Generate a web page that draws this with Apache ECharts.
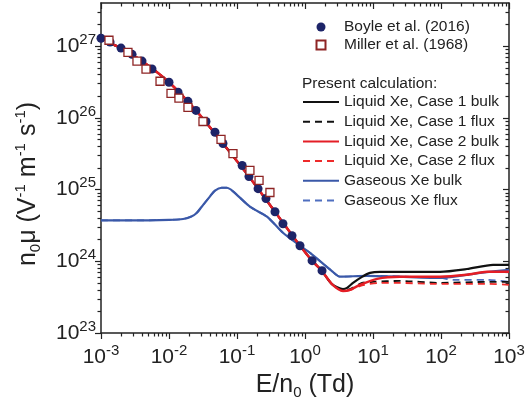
<!DOCTYPE html>
<html>
<head>
<meta charset="utf-8">
<script src="https://cdn.jsdelivr.net/npm/echarts@6/dist/echarts.min.js"></script>
<style>
  html, body { margin: 0; padding: 0; background: #fff; }
  #chart { width: 525px; height: 410px; }
</style>
</head>
<body>
<div id="chart"></div>
<script>
// tick positions
const xMajor = [1e-3, 1e-2, 1e-1, 1, 10, 100, 1000];
const yMajor = [1e23, 1e24, 1e25, 1e26, 1e27];

// Boyle et al. (2016)
const boyleE = [0.001, 0.00136, 0.00197, 0.00286, 0.00401, 0.00562, 0.0100, 0.0136, 0.0190, 0.0249, 0.0350, 0.0475, 0.0622, 0.119, 0.150, 0.204, 0.267, 0.362, 0.474, 0.644, 0.844, 1.27, 1.78];
const boyleMu = [1.29e27, 1.14e27, 9.4e26, 7.7e26, 6.2e26, 4.8e26, 3.14e26, 2.28e26, 1.70e26, 1.27e26, 8.9e25, 6.3e25, 4.4e25, 2.17e25, 1.52e25, 1.03e25, 7.5e24, 4.9e24, 3.34e24, 2.27e24, 1.65e24, 1.02e24, 7.4e23];

// Miller et al. (1968)
const millerE = [0.00131, 0.00249, 0.00338, 0.00459, 0.00738, 0.0107, 0.0140, 0.0190, 0.0316, 0.0582, 0.0873, 0.155, 0.211, 0.305];
const millerMu = [1.21e27, 8.2e26, 6.2e26, 4.8e26, 3.24e26, 2.20e26, 1.88e26, 1.40e26, 8.9e25, 5.0e25, 3.18e25, 1.85e25, 1.34e25, 9.1e24];

// liquid Xe, low field part (same for all four liquid curves)
const liqLowE = [0.001, 0.00125, 0.00197, 0.00401, 0.01, 0.0249, 0.0622, 0.15, 0.362, 0.844, 1.27, 1.78, 2.49];
const liqLowMu = [1.42e27, 1.15e27, 9.4e26, 6.2e26, 3.14e26, 1.27e26, 4.4e25, 1.52e25, 4.9e24, 1.65e24, 1.02e24, 7.3e23, 4.8e23];

const case1BulkE = liqLowE.concat([3.62, 4.15, 5.08, 6.89, 9.04, 12.7, 96.6, 241, 582, 1000]);
const case1BulkMu = liqLowMu.concat([4.1e23, 4.26e23, 5.0e23, 6.07e23, 6.9e23, 7.13e23, 7.13e23, 7.8e23, 8.93e23, 8.93e23]);
const case1FluxE = liqLowE.concat([3.62, 4.6, 6.89, 10, 24.9, 96.6, 474, 1000]);
const case1FluxMu = liqLowMu.concat([3.95e23, 4.1e23, 5.0e23, 5.16e23, 5.33e23, 5.0e23, 5.16e23, 5.16e23]);
const case2BulkE = liqLowE.concat([3.62, 4.6, 6.44, 11.5, 24.9, 96.6, 241, 474, 1000]);
const case2BulkMu = liqLowMu.concat([3.86e23, 4.0e23, 4.69e23, 5.69e23, 6.07e23, 6.07e23, 6.47e23, 7.13e23, 7.13e23]);
const case2FluxE = liqLowE.concat([3.62, 4.6, 6.89, 12.7, 24.9, 76, 474, 1000]);
const case2FluxMu = liqLowMu.concat([3.86e23, 3.95e23, 4.6e23, 5.0e23, 5.0e23, 4.84e23, 4.84e23, 4.7e23]);

// gaseous Xe
const gasBulkE = [0.001, 0.005, 0.01, 0.0161, 0.021, 0.0255, 0.032, 0.0401, 0.0475, 0.0596, 0.0706, 0.0873, 0.155, 0.276, 0.474, 0.844, 1.19, 2.49, 3.27, 8.17, 96.6, 375, 1000];
const gasBulkMu = [3.72e24, 3.73e24, 3.78e24, 3.89e24, 4.19e24, 4.72e24, 6.17e24, 8.05e24, 9.7e24, 1.06e25, 1.06e25, 9.47e24, 5.78e24, 4.19e24, 2.5e24, 1.65e24, 1.31e24, 7.3e23, 6.1e23, 6.27e23, 5.87e23, 6.9e23, 7.6e23];
const gasFluxE = gasBulkE.slice(0, 21).concat([150, 474, 1000]);
const gasFluxMu = gasBulkMu.slice(0, 21).concat([5.51e23, 5.51e23, 5.16e23]);

// minor ticks 2..9 in every decade
function minorTicks(lo, hi, max) {
  const out = [];
  for (let e = lo; e < hi; e++) {
    for (let k = 2; k <= 9; k++) {
      const v = k * Math.pow(10, e);
      if (v < max) out.push(v);
    }
  }
  return out;
}
const xMinor = minorTicks(-3, 3, 1001);
const yMinor = minorTicks(23, 28, 3.9e27);

const font = 'Liberation Sans, Arial, sans-serif';
const ink = '#222';
const xMin = 1e-3, xMax = 1e3, yMin = 1e23, yMax = 4e27;

const tickRich = {
  b: { fontSize: 21, lineHeight: 28, fontFamily: font, color: ink },
  s: { fontSize: 15, lineHeight: 15, verticalAlign: 'top', fontFamily: font, color: ink }
};
const nameRich = {
  t: { fontSize: 25, lineHeight: 30, fontFamily: font, color: ink },
  sub: { fontSize: 15, lineHeight: 14, verticalAlign: 'bottom', fontFamily: font, color: ink },
  sup: { fontSize: 15, lineHeight: 14, verticalAlign: 'top', fontFamily: font, color: ink }
};
const powLabel = v => '{b|10}{s|' + Math.round(Math.log10(v)) + '}';

function axis(pos, min, max, ticks, len, inside, line, extra) {
  return Object.assign({
    type: 'log', logBase: 10, position: pos, min: min, max: max,
    splitLine: { show: false },
    minorTick: { show: false },
    axisLine: { show: line, lineStyle: { color: ink, width: 1.5 } },
    axisTick: { show: true, inside: inside, length: len, customValues: ticks, lineStyle: { color: ink, width: 1.2 } },
    axisLabel: { show: false }
  }, extra || {});
}

function lineSeries(name, xs, ys, color, dashed, width, z) {
  return {
    name: name, type: 'line', z: z,
    data: xs.map((x, i) => [x, ys[i]]),
    symbol: 'none', showSymbol: false, smooth: 0.25,
    lineStyle: { color: color, width: width, type: dashed ? [7, 5] : 'solid' },
    itemStyle: { color: color }
  };
}

const chart = echarts.init(document.getElementById('chart'));
chart.setOption({
  animation: false,
  grid: { left: 101, right: 16, top: 3, bottom: 77, outerBoundsMode: 'none' },
  title: {
    text: 'Present calculation:', left: 302, top: 75, padding: 0,
    textStyle: { fontSize: 15.5, fontWeight: 'normal', color: ink, fontFamily: font, lineHeight: 18 }
  },
  legend: [{
    data: ['Boyle et al. (2016)', 'Miller et al. (1968)'],
    orient: 'vertical', left: 315.5, top: 19, padding: 0,
    itemWidth: 9, itemHeight: 9, itemGap: 2, selectedMode: false,
    textStyle: { fontSize: 15.5, lineHeight: 16, color: ink, fontFamily: font, padding: [0, 0, 0, 13.5] }
  }, {
    data: ['Liquid Xe, Case 1 bulk', 'Liquid Xe, Case 1 flux', 'Liquid Xe, Case 2 bulk',
      'Liquid Xe, Case 2 flux', 'Gaseous Xe bulk', 'Gaseous Xe flux'],
    orient: 'vertical', left: 302, top: 94, padding: 0,
    itemWidth: 36, itemHeight: 12, itemGap: 3.7, selectedMode: false,
    itemStyle: { opacity: 0 },
    textStyle: { fontSize: 15.5, lineHeight: 16, color: ink, fontFamily: font }
  }],
  xAxis: [
    axis('bottom', xMin, xMax, xMajor, 6, false, true, {
      axisLabel: { show: true, customValues: xMajor, margin: 10, formatter: powLabel, rich: tickRich },
      name: '{t|E/n}{sub|0}{t| (Td)}', nameLocation: 'middle', nameGap: 32,
      nameTextStyle: { rich: nameRich }
    }),
    axis('bottom', xMin, xMax, xMinor, 3.5, false, false),
    axis('top', xMin, xMax, xMajor, 6, true, true),
    axis('top', xMin, xMax, xMinor, 3.5, true, false)
  ],
  yAxis: [
    axis('left', yMin, yMax, yMajor, 6, false, true, {
      axisLabel: { show: true, customValues: yMajor, margin: 5, formatter: powLabel, rich: tickRich },
      name: '{t|n}{sub|0}{t|μ (V}{sup|-1}{t| m}{sup|-1}{t| s}{sup|-1}{t|)}',
      nameLocation: 'middle', nameRotate: 90, nameGap: 58,
      nameTextStyle: { rich: nameRich, padding: [0, 32, 0, 0] }
    }),
    axis('left', yMin, yMax, yMinor, 3.5, false, false),
    axis('right', yMin, yMax, yMajor, 6, true, true),
    axis('right', yMin, yMax, yMinor, 3.5, true, false)
  ],
  series: [
    lineSeries('Gaseous Xe flux', gasFluxE, gasFluxMu, '#4f6fc0', true, 1.8, 2),
    lineSeries('Gaseous Xe bulk', gasBulkE, gasBulkMu, '#3a58a8', false, 2.2, 3),
    lineSeries('Liquid Xe, Case 1 flux', case1FluxE, case1FluxMu, '#111', true, 1.8, 4),
    lineSeries('Liquid Xe, Case 2 flux', case2FluxE, case2FluxMu, '#ee2a2a', true, 1.8, 5),
    lineSeries('Liquid Xe, Case 1 bulk', case1BulkE, case1BulkMu, '#111', false, 2.2, 6),
    lineSeries('Liquid Xe, Case 2 bulk', case2BulkE, case2BulkMu, '#e41e26', false, 2.5, 7),
    {
      name: 'Boyle et al. (2016)', type: 'scatter', z: 8,
      data: boyleE.map((x, i) => [x, boyleMu[i]]),
      symbol: 'circle', symbolSize: 9,
      itemStyle: { color: '#1d2468', opacity: 1 }
    },
    {
      name: 'Miller et al. (1968)', type: 'scatter', z: 9,
      data: millerE.map((x, i) => [x, millerMu[i]]),
      symbol: 'rect', symbolSize: 8,
      itemStyle: { color: '#fff', borderColor: '#8e2424', borderWidth: 1.3, opacity: 1 }
    }
  ]
});
</script>
</body>
</html>
